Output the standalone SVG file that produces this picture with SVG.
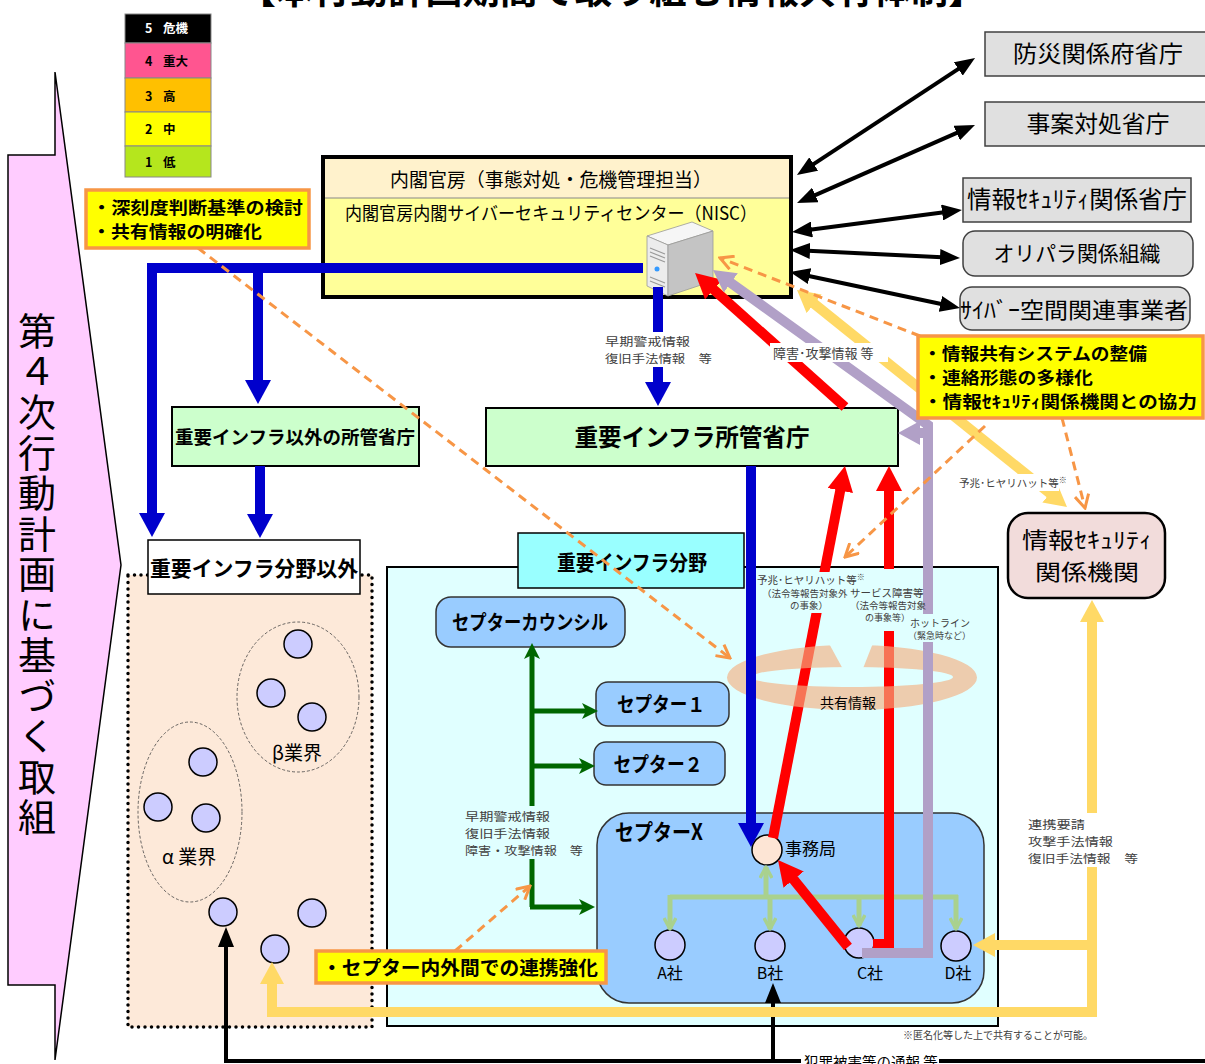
<svg xmlns="http://www.w3.org/2000/svg" width="1205" height="1064" viewBox="0 0 1205 1064">
<defs>
<style>
text{font-family:"Noto Sans CJK JP","Noto Sans",sans-serif;fill:#000}
.b{font-weight:bold}
.lbl{font-size:11.6px;fill:#404040}
.sm{fill:#404040}
.gray{fill:#e0e0e0;stroke:#404040;stroke-width:1.5}
.note{fill:#ffff00;stroke:#f79646;stroke-width:3.5}
.cep{fill:#99ccff;stroke:#333;stroke-width:1.5}
.co{fill:#ccccff;stroke:#000;stroke-width:1.5}
.blue{fill:none;stroke:#0000cc;stroke-width:10}
.red{fill:none;stroke:#ff0000;stroke-width:10}
.pur{fill:none;stroke:#b1a0c7;stroke-width:10}
.yel{fill:none;stroke:#ffd966;stroke-width:10}
.grn{fill:none;stroke:#006600;stroke-width:5}
.lg{fill:none;stroke:#a9d18e;stroke-width:5}
.or{fill:none;stroke:#f79646;stroke-width:3;stroke-dasharray:9 6}
.bk{fill:none;stroke:#000;stroke-width:4}
.lg-t{font-size:12.5px;font-weight:bold}
</style>
<marker id="mBk" markerUnits="userSpaceOnUse" viewBox="0 0 20 16" markerWidth="20" markerHeight="16" refX="2" refY="8" orient="auto-start-reverse"><path d="M0,0L20,8L0,16z" fill="#000"/></marker>
<marker id="mBl" markerUnits="userSpaceOnUse" viewBox="0 0 24 26" markerWidth="24" markerHeight="26" refX="2" refY="13" orient="auto"><path d="M0,0L24,13L0,26z" fill="#0000cc"/></marker>
<marker id="mRd" markerUnits="userSpaceOnUse" viewBox="0 0 25 26" markerWidth="25" markerHeight="26" refX="2" refY="13" orient="auto"><path d="M0,0L25,13L0,26z" fill="#ff0000"/></marker>
<marker id="mPu" markerUnits="userSpaceOnUse" viewBox="0 0 22 24" markerWidth="22" markerHeight="24" refX="2" refY="12" orient="auto"><path d="M0,0L22,12L0,24z" fill="#b1a0c7"/></marker>
<marker id="mYe" markerUnits="userSpaceOnUse" viewBox="0 0 22 24" markerWidth="22" markerHeight="24" refX="2" refY="12" orient="auto-start-reverse"><path d="M0,0L22,12L0,24z" fill="#ffd966"/></marker>
<marker id="mGr" markerUnits="userSpaceOnUse" viewBox="0 0 16 16" markerWidth="16" markerHeight="16" refX="5" refY="8" orient="auto"><path d="M0,0L16,8L0,16L4,8z" fill="#006600"/></marker>
<marker id="mLg" markerUnits="userSpaceOnUse" viewBox="0 0 14 14" markerWidth="14" markerHeight="14" refX="12" refY="7" orient="auto"><path d="M1,1L12,7L1,13" fill="none" stroke="#a9d18e" stroke-width="3.5" stroke-linejoin="round"/></marker>
<marker id="mOr" markerUnits="userSpaceOnUse" viewBox="0 0 16 16" markerWidth="16" markerHeight="16" refX="14" refY="8" orient="auto"><path d="M1,1L14,8L1,15" fill="none" stroke="#f79646" stroke-width="3"/></marker>
<mask id="ringMask"><rect x="700" y="620" width="300" height="110" fill="#fff"/><polygon points="826,638 844,671 862,671 875,638" fill="#000"/></mask>
</defs>
<rect width="1205" height="1064" fill="#fff"/>

<text x="612" y="4" text-anchor="middle" class="b" font-size="37" textLength="747" lengthAdjust="spacingAndGlyphs">【本行動計画期間で取り組む情報共有体制】</text>

<g id="plan-arrow">
<polygon points="8,155 55,155 55,72 121,565 55,1060 55,985 8,985" fill="#ffccff" stroke="#000" stroke-width="1.5"/>
<text x="37" y="312" font-size="38" fill="#333" writing-mode="vertical-rl" letter-spacing="2.5">第４次行動計画に基づく取組</text>
</g>

<g id="legend">
<rect x="125" y="14" width="86" height="29" fill="#000" stroke="#888"/>
<rect x="125" y="43" width="86" height="35" fill="#ff5590" stroke="#888"/>
<rect x="125" y="78" width="86" height="34" fill="#ffc000" stroke="#888"/>
<rect x="125" y="112" width="86" height="34" fill="#ffff00" stroke="#888"/>
<rect x="125" y="146" width="86" height="31" fill="#b5e61d" stroke="#888"/>
<text y="33" class="lg-t" style="fill:#fff"><tspan x="145">5</tspan><tspan x="163">危機</tspan></text>
<text y="66" class="lg-t"><tspan x="145">4</tspan><tspan x="163">重大</tspan></text>
<text y="101" class="lg-t"><tspan x="145">3</tspan><tspan x="163">高</tspan></text>
<text y="134" class="lg-t"><tspan x="145">2</tspan><tspan x="163">中</tspan></text>
<text y="167" class="lg-t"><tspan x="145">1</tspan><tspan x="163">低</tspan></text>
</g>

<g id="nisc">
<rect x="323" y="157" width="468" height="140" fill="#ffff99" stroke="#000" stroke-width="4"/>
<rect x="325" y="159" width="464" height="39" fill="#fff2cc"/>
<line x1="325" y1="198" x2="789" y2="198" stroke="#888" stroke-width="1"/>
<text x="551" y="187" font-size="19" text-anchor="middle" fill="#222" textLength="322" lengthAdjust="spacingAndGlyphs">内閣官房（事態対処・危機管理担当）</text>
<text x="551" y="220" font-size="18.5" text-anchor="middle" fill="#222" textLength="412" lengthAdjust="spacingAndGlyphs">内閣官房内閣サイバーセキュリティセンター（NISC）</text>
</g>

<g id="bousai"><rect x="985" y="32" width="225" height="44" class="gray"/><text x="1098" y="62" font-size="23" text-anchor="middle" fill="#222" textLength="170" lengthAdjust="spacingAndGlyphs">防災関係府省庁</text></g>
<g id="jian"><rect x="985" y="102" width="225" height="44" class="gray"/><text x="1098" y="132" font-size="23" text-anchor="middle" fill="#222" textLength="143" lengthAdjust="spacingAndGlyphs">事案対処省庁</text></g>
<g id="infosec-ministries"><rect x="963" y="178" width="228" height="44" class="gray"/><text x="1077" y="208" font-size="24" text-anchor="middle" fill="#222" textLength="220" lengthAdjust="spacingAndGlyphs">情報ｾｷｭﾘﾃｨ関係省庁</text></g>
<g id="olympic"><rect x="963" y="231" width="230" height="45" rx="12" class="gray"/><text x="1077" y="261" font-size="21" text-anchor="middle" fill="#222" textLength="167" lengthAdjust="spacingAndGlyphs">オリパラ関係組織</text></g>
<g id="cyber-business"><rect x="960" y="287" width="230" height="43" rx="12" class="gray"/><text x="1074" y="318" font-size="22" text-anchor="middle" fill="#222" textLength="228" lengthAdjust="spacingAndGlyphs">ｻｲﾊﾞｰ空間関連事業者</text></g>

<g id="ci-ministries"><rect x="486" y="408" width="412" height="58" fill="#ccffcc" stroke="#000" stroke-width="2"/><text x="692" y="446" class="b" font-size="24" text-anchor="middle" textLength="235" lengthAdjust="spacingAndGlyphs">重要インフラ所管省庁</text></g>
<g id="non-ci-ministries"><rect x="172" y="407" width="247" height="59" fill="#ccffcc" stroke="#000" stroke-width="2"/><text x="295" y="444" class="b" font-size="18.5" text-anchor="middle" textLength="240" lengthAdjust="spacingAndGlyphs">重要インフラ以外の所管省庁</text></g>

<g id="non-ci-sector">
<rect x="128" y="575" width="244" height="452" fill="#fde9d9" stroke="#000" stroke-width="3.5" stroke-dasharray="0 6.5" stroke-linecap="round"/>
<rect x="148" y="540" width="212" height="54" fill="#fff" stroke="#000" stroke-width="1.5"/>
<text x="254" y="576" class="b" font-size="21" text-anchor="middle" textLength="208" lengthAdjust="spacingAndGlyphs">重要インフラ分野以外</text>
<ellipse cx="298" cy="697" rx="61" ry="75" fill="none" stroke="#444" stroke-width="0.8" stroke-dasharray="3 2"/>
<ellipse cx="190" cy="812" rx="52" ry="90" fill="none" stroke="#444" stroke-width="0.8" stroke-dasharray="3 2"/>
<circle cx="298" cy="644" r="14" class="co"/><circle cx="271" cy="693" r="14" class="co"/><circle cx="312" cy="717" r="14" class="co"/>
<circle cx="203" cy="762" r="14" class="co"/><circle cx="158" cy="807" r="14" class="co"/><circle cx="206" cy="818" r="14" class="co"/>
<circle cx="223" cy="912" r="14" class="co"/><circle cx="312" cy="913" r="14" class="co"/><circle cx="275" cy="949" r="14" class="co"/>
<text x="272" y="760" font-size="19" fill="#222">β業界</text>
<text x="162" y="864" font-size="19" fill="#222">α 業界</text>
</g>

<g id="ci-sector">
<rect x="387" y="567" width="611" height="459" fill="#e0ffff" stroke="#000" stroke-width="2"/>
<rect x="518" y="533" width="226" height="55" fill="#99ffff" stroke="#000" stroke-width="1.5"/>
<text x="632" y="570" class="b" font-size="21" text-anchor="middle" textLength="150" lengthAdjust="spacingAndGlyphs">重要インフラ分野</text>
</g>
<g id="ceptor-council"><rect x="436" y="597" width="189" height="50" rx="15" class="cep"/><text x="530" y="630" class="b" font-size="20" text-anchor="middle" textLength="156" lengthAdjust="spacingAndGlyphs">セプターカウンシル</text></g>
<g id="ceptor1"><rect x="596" y="682" width="133" height="44" rx="12" class="cep"/><text x="661" y="712" class="b" font-size="20" text-anchor="middle" textLength="88" lengthAdjust="spacingAndGlyphs">セプター１</text></g>
<g id="ceptor2"><rect x="594" y="742" width="131" height="43" rx="12" class="cep"/><text x="658" y="772" class="b" font-size="20" text-anchor="middle" textLength="89" lengthAdjust="spacingAndGlyphs">セプター２</text></g>
<g id="ceptorX">
<rect x="597" y="813" width="387" height="190" rx="32" class="cep"/>
<text x="615" y="840" class="b" font-size="22" textLength="88" lengthAdjust="spacingAndGlyphs">セプターX</text>
</g>
<g id="secretariat"><circle cx="767" cy="850" r="15" fill="#fde5d5" stroke="#000" stroke-width="1.5"/><text x="785" y="855" font-size="17" fill="#222">事務局</text></g>
<g id="companyA"><circle cx="670" cy="945" r="15" class="co"/><text x="670" y="979" font-size="16" text-anchor="middle" fill="#222">A社</text></g>
<g id="companyB"><circle cx="770" cy="946" r="15" class="co"/><text x="770" y="979" font-size="16" text-anchor="middle" fill="#222">B社</text></g>
<g id="companyC"><circle cx="859" cy="943" r="15" class="co"/><text x="870" y="979" font-size="16" text-anchor="middle" fill="#222">C社</text></g>
<g id="companyD"><circle cx="956" cy="946" r="15" class="co"/><text x="958" y="979" font-size="16" text-anchor="middle" fill="#222">D社</text></g>

<g id="infosec-orgs"><rect x="1008" y="513" width="157" height="85" rx="20" fill="#f2dcdb" stroke="#000" stroke-width="2.5"/>
<text font-size="22" text-anchor="middle" fill="#222"><tspan x="1087" y="548" textLength="130" lengthAdjust="spacingAndGlyphs">情報ｾｷｭﾘﾃｨ</tspan><tspan x="1087" y="580" textLength="104" lengthAdjust="spacingAndGlyphs">関係機関</tspan></text></g>

<g id="nisc-server">
<polygon points="647,236 692,222 713,231 668,245" fill="#f6f6f6" stroke="#999" stroke-width="0.8"/>
<polygon points="647,236 668,245 668,296 647,286" fill="#ececec" stroke="#999" stroke-width="0.8"/>
<polygon points="668,245 713,231 713,281 668,296" fill="#c4c4c4" stroke="#999" stroke-width="0.8"/>
<path d="M650,248L665,254M650,252L665,258M650,256L665,262M650,277L665,283M650,281L665,287" stroke="#999" stroke-width="1.2"/>
<circle cx="657" cy="269" r="2.5" fill="#3399ff"/>
</g>

<g id="connectors">
<path class="bk" d="M812,165.1L960,67.9" marker-start="url(#mBk)" marker-end="url(#mBk)"/>
<path class="bk" d="M813.5,195.8L958.5,132.2" marker-start="url(#mBk)" marker-end="url(#mBk)"/>
<path class="bk" d="M809.9,229.7L944.1,212.3" marker-start="url(#mBk)" marker-end="url(#mBk)"/>
<path class="bk" d="M808,250.8L942,257.2" marker-start="url(#mBk)" marker-end="url(#mBk)"/>
<path class="bk" d="M807.6,275.7L942.4,304.3" marker-start="url(#mBk)" marker-end="url(#mBk)"/>
<path class="bk" d="M1205,1061H226V945" marker-end="url(#mBk)"/>
<path class="bk" d="M773,1061V1001" marker-end="url(#mBk)"/>

<path class="grn" d="M532,907V654" marker-end="url(#mGr)"/>
<path class="grn" d="M530,711H587" marker-end="url(#mGr)"/>
<path class="grn" d="M530,766H584" marker-end="url(#mGr)"/>
<path class="grn" d="M530,907H584" marker-end="url(#mGr)"/>

<path class="lg" d="M670,897H958"/>
<path class="lg" d="M670,895V929" marker-end="url(#mLg)"/>
<path class="lg" d="M770,895V929" marker-end="url(#mLg)"/>
<path class="lg" d="M859,895V926" marker-end="url(#mLg)"/>
<path class="lg" d="M956,895V929" marker-end="url(#mLg)"/>
<path class="lg" d="M766,899V867" marker-end="url(#mLg)"/>

<path class="red" d="M845,407L712.2,288.3" marker-end="url(#mRd)"/>
<path class="red" d="M773,838L840.6,488.6" marker-end="url(#mRd)"/>
<path class="red" d="M873,944H889V489" marker-end="url(#mRd)"/>
<path class="red" d="M848,947L792.4,878" marker-end="url(#mRd)"/>

<path id="shared-ring" fill-rule="evenodd" fill="#f4b183" opacity="0.65" mask="url(#ringMask)" d="M727,677.5a125,32.5 0 1,0 250,0a125,32.5 0 1,0 -250,0ZM751,677a101,10 0 1,0 202,0a101,10 0 1,0 -202,0Z"/>

<path class="blue" d="M643,268H152V515" marker-end="url(#mBl)"/>
<path class="blue" d="M258,268V382" marker-end="url(#mBl)"/>
<path class="blue" d="M260,466V516" marker-end="url(#mBl)"/>
<path class="blue" d="M658,287V384" marker-end="url(#mBl)"/>
<path class="blue" d="M751,466V825" marker-end="url(#mBl)"/>

<path class="pur" d="M862,953H928V425L729.2,281.7" marker-end="url(#mPu)"/>
<path class="pur" d="M925,433H918" marker-end="url(#mPu)"/>

<path class="yel" d="M812.6,302.5L1051.4,494.5" marker-start="url(#mYe)" marker-end="url(#mYe)"/>
<path class="yel" d="M272,982V1012H1092V620" marker-start="url(#mYe)" marker-end="url(#mYe)"/>
<path class="yel" d="M1092,945H993" marker-end="url(#mYe)"/>

<path class="or" d="M198,248L730,658" marker-end="url(#mOr)"/>
<path class="or" d="M920,336L720,258" marker-end="url(#mOr)"/>
<path class="or" d="M985,426L845,557" marker-end="url(#mOr)"/>
<path class="or" d="M1062,418L1085,508" marker-end="url(#mOr)"/>
<path class="or" d="M455,951L530,886" marker-end="url(#mOr)"/>
</g>

<g id="labels">
<rect x="602" y="332" width="112" height="35" fill="#fff"/>
<text class="lbl"><tspan x="605" y="346" textLength="85" lengthAdjust="spacingAndGlyphs">早期警戒情報</tspan><tspan x="605" y="363" textLength="107" lengthAdjust="spacingAndGlyphs">復旧手法情報　等</tspan></text>
<rect x="770" y="343" width="118" height="19" fill="#fff"/>
<text x="773" y="358" font-size="13" class="sm">障害･攻撃情報 等</text>
<rect x="957" y="474" width="102" height="17" fill="#fff"/>
<text x="959" y="487" font-size="10.5" class="sm">予兆･ヒヤリハット等<tspan font-size="8" dy="-4">※</tspan></text>
<rect x="756" y="572" width="100" height="41" fill="#e0ffff"/>
<rect x="848" y="569" width="74" height="62" fill="#e0ffff"/>
<rect x="906" y="614" width="58" height="28" fill="#e0ffff"/>
<text class="sm"><tspan x="757" y="584" font-size="10.5">予兆･ヒヤリハット等</tspan><tspan font-size="8" dy="-4">※</tspan><tspan x="762" y="597" font-size="9.5">（法令等報告対象外</tspan><tspan x="790" y="609" font-size="9.5">の事象）</tspan></text>
<text class="sm"><tspan x="850" y="597" font-size="10.5">サービス障害等</tspan><tspan x="850" y="609" font-size="9.5">（法令等報告対象</tspan><tspan x="865" y="621" font-size="9">の事象等）</tspan></text>
<text class="sm"><tspan x="910" y="627" font-size="10">ホットライン</tspan><tspan x="908" y="639" font-size="9">（緊急時など）</tspan></text>
<text x="848" y="708" font-size="14" text-anchor="middle" fill="#595959">共有情報</text>
<rect x="462" y="806" width="126" height="53" fill="#e0ffff"/>
<text class="lbl"><tspan x="465" y="821" textLength="85" lengthAdjust="spacingAndGlyphs">早期警戒情報</tspan><tspan x="465" y="838" textLength="85" lengthAdjust="spacingAndGlyphs">復旧手法情報</tspan><tspan x="465" y="855" textLength="118" lengthAdjust="spacingAndGlyphs">障害・攻撃情報　等</tspan></text>
<rect x="1025" y="813" width="116" height="54" fill="#fff"/>
<text class="lbl"><tspan x="1028" y="829" textLength="57" lengthAdjust="spacingAndGlyphs">連携要請</tspan><tspan x="1028" y="846" textLength="85" lengthAdjust="spacingAndGlyphs">攻撃手法情報</tspan><tspan x="1028" y="863" textLength="110" lengthAdjust="spacingAndGlyphs">復旧手法情報　等</tspan></text>
<text x="903" y="1039" font-size="10" class="sm">※匿名化等した上で共有することが可能。</text>
<rect x="801" y="1050" width="138" height="14" fill="#fff"/>
<text x="804" y="1068" font-size="14.5" fill="#333">犯罪被害等の通報 等</text>
</g>

<g id="note-severity">
<rect x="86" y="190" width="223" height="58" class="note"/>
<text class="b" font-size="16.5"><tspan x="92" y="214" textLength="211" lengthAdjust="spacingAndGlyphs">・深刻度判断基準の検討</tspan><tspan x="92" y="238" textLength="170" lengthAdjust="spacingAndGlyphs">・共有情報の明確化</tspan></text>
</g>
<g id="note-system">
<rect x="918" y="336" width="285" height="82" class="note"/>
<text class="b" font-size="16.5"><tspan x="923" y="360" textLength="224" lengthAdjust="spacingAndGlyphs">・情報共有システムの整備</tspan><tspan x="923" y="384" textLength="170" lengthAdjust="spacingAndGlyphs">・連絡形態の多様化</tspan><tspan x="923" y="408" textLength="274" lengthAdjust="spacingAndGlyphs">・情報ｾｷｭﾘﾃｨ関係機関との協力</tspan></text>
</g>
<g id="note-ceptor">
<rect x="316" y="951" width="290" height="32" class="note"/>
<text x="322" y="975" class="b" font-size="19" textLength="276" lengthAdjust="spacingAndGlyphs">・セプター内外間での連携強化</text>
</g>
</svg>
